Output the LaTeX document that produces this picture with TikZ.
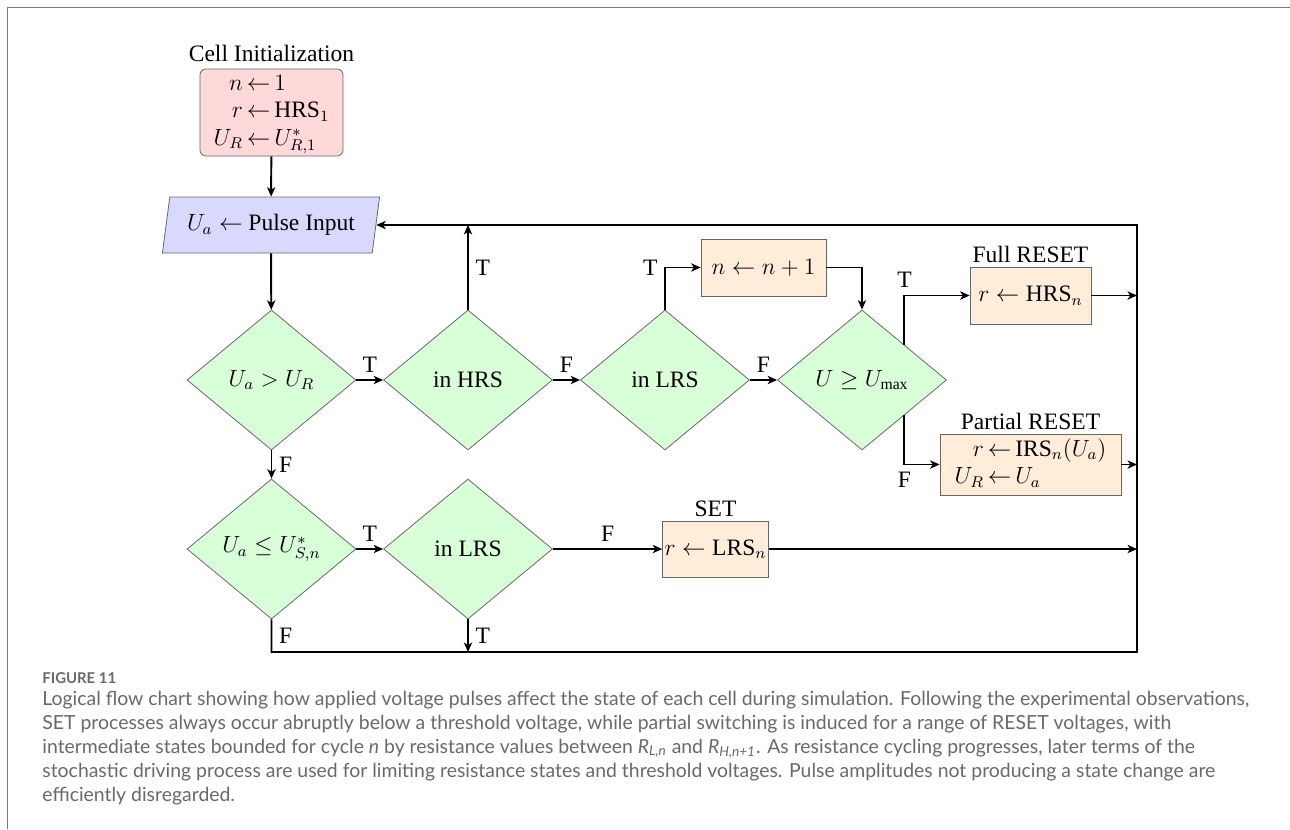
\documentclass[tikz,border=0pt]{standalone}
\usepackage{fontspec}
\setmainfont{Liberation Serif}
\newfontfamily\capfont{Lato}
\usetikzlibrary{shapes.geometric,arrows.meta}
\newlength\pxl
\setlength\pxl{0.51pt}
\definecolor{capgray}{RGB}{105,105,105}
\definecolor{framegray}{RGB}{120,120,120}
\begin{document}
\begin{tikzpicture}[x=\pxl,y=-\pxl,font=\fontsize{12}{14}\selectfont,
  box/.style={draw=black!60,line width=0.4pt,inner sep=1pt},
  initbox/.style={box,rounded corners=3pt,fill=red!15,minimum width=143\pxl,minimum height=87\pxl},
  inputbox/.style={box,trapezium,trapezium left angle=76,trapezium right angle=104,trapezium stretches=true,fill=blue!15,minimum width=218\pxl,minimum height=56\pxl},
  decision/.style={box,diamond,inner sep=0pt,fill=green!15,minimum width=169\pxl,minimum height=140\pxl},
  action/.style={box,fill=orange!15,minimum height=57\pxl},
  flow/.style={line width=1pt,-{Stealth[length=4.8pt,width=4.2pt,inset=1.3pt]}},
  capline/.style={anchor=base west,inner sep=0pt,text=capgray,font=\capfont\fontsize{9.9}{12}\selectfont}]
\useasboundingbox (0,0) rectangle (1290,829);
\draw[framegray,line width=0.5pt] (7,829) -- (7,7) -- (1290,7);
\node[initbox,label={[inner sep=3.5pt]above:Cell Initialization}] (init) at (271.5,112.5)
  {$\begin{array}{r@{\,\leftarrow\,}l} n & 1\\ r & \mathrm{HRS}_1\\ U_R & U^*_{R,1}\end{array}$};
\node[inputbox] (pulse) at (271,225) {$U_a \leftarrow$ Pulse Input};
\node[decision] (gtr) at (271.5,380) {$U_a > U_R$};
\node[decision] (inhrs) at (468,380) {in HRS};
\node[decision] (inlrs) at (665,380) {in LRS};
\node[decision] (umax) at (862,380) {$U \geq U_{\max}$};
\node[decision] (leq) at (271.5,549) {$U_a \leq U^*_{S,n}$};
\node[decision] (inlrsb) at (468,549) {in LRS};
\node[action,minimum width=125\pxl] (incr) at (763.5,267.5) {$n \leftarrow n+1$};
\node[action,minimum width=121\pxl,label={[inner sep=2pt]above:Full RESET}] (full) at (1030.5,295.5) {$r \leftarrow \mathrm{HRS}_n$};
\node[action,minimum width=181\pxl,minimum height=61\pxl,label={[inner sep=2pt]above:Partial RESET}] (part) at (1030.5,464.5)
  {$\begin{array}{r@{\,\leftarrow\,}l} r & \mathrm{IRS}_n(U_a)\\ U_R & U_a\end{array}$};
\node[action,minimum width=95\pxl,minimum height=56\pxl,label={[inner sep=2pt]above:SET}] (set) at (715.5,549) {$r \leftarrow \mathrm{LRS}_n$};
\coordinate (loopbl) at (271.5,652);
\coordinate (loopbr) at (1137,652);
\coordinate (looptr) at (1137,225);
\draw[flow] (init) -- (pulse);
\draw[flow] (pulse) -- (gtr);
\draw[flow] (gtr) -- node[above]{T} (inhrs);
\draw[flow] (inhrs) -- node[above]{F} (inlrs);
\draw[flow] (inlrs) -- node[above]{F} (umax);
\draw[flow] (inhrs.north) -- node[right]{T} (inhrs.north |- looptr);
\draw[flow] (inlrs.north) |- node[pos=0.5,left]{T} (incr.west);
\draw[flow] (incr.east) -| (umax.north);
\draw[flow] (umax.north east) |- node[pos=0.5,above]{T} (full.west);
\draw[flow] (umax.south east) |- node[pos=0.5,below]{F} (part.west);
\draw[flow] (full.east) -- (full.east -| looptr);
\draw[flow] (part.east) -- (part.east -| looptr);
\draw[flow] (gtr) -- node[right]{F} (leq);
\draw[flow] (leq) -- node[above]{T} (inlrsb);
\draw[flow] (inlrsb) -- node[above]{F} (set);
\draw[flow] (set.east) -- (set.east -| looptr);
\draw[flow] (inlrsb.south) -- node[right]{T} (inlrsb.south |- loopbl);
\draw[flow] (leq.south) -- node[right]{F} (loopbl) -- (loopbr) -- (looptr) -- (pulse.east);
\node[capline,font=\capfont\bfseries\fontsize{7.6}{10}\selectfont] (fignum) at (42,683) {FIGURE 11};
\node[capline] (capa) at (42,705) {Logical flow chart showing how applied voltage pulses affect the state of each cell during simulation. Following the experimental observations,};
\node[capline] (capb) at (42,729) {SET processes always occur abruptly below a threshold voltage, while partial switching is induced for a range of RESET voltages, with};
\node[capline] (capc) at (42,753) {intermediate states bounded for cycle \textit{n} by resistance values between \textit{R}\textsubscript{\textit{L,n}} and \textit{R}\textsubscript{\textit{H,n+1}}. As resistance cycling progresses, later terms of the};
\node[capline] (capd) at (42,777) {stochastic driving process are used for limiting resistance states and threshold voltages. Pulse amplitudes not producing a state change are};
\node[capline] (cape) at (42,801) {efficiently disregarded.};
\end{tikzpicture}
\end{document}
